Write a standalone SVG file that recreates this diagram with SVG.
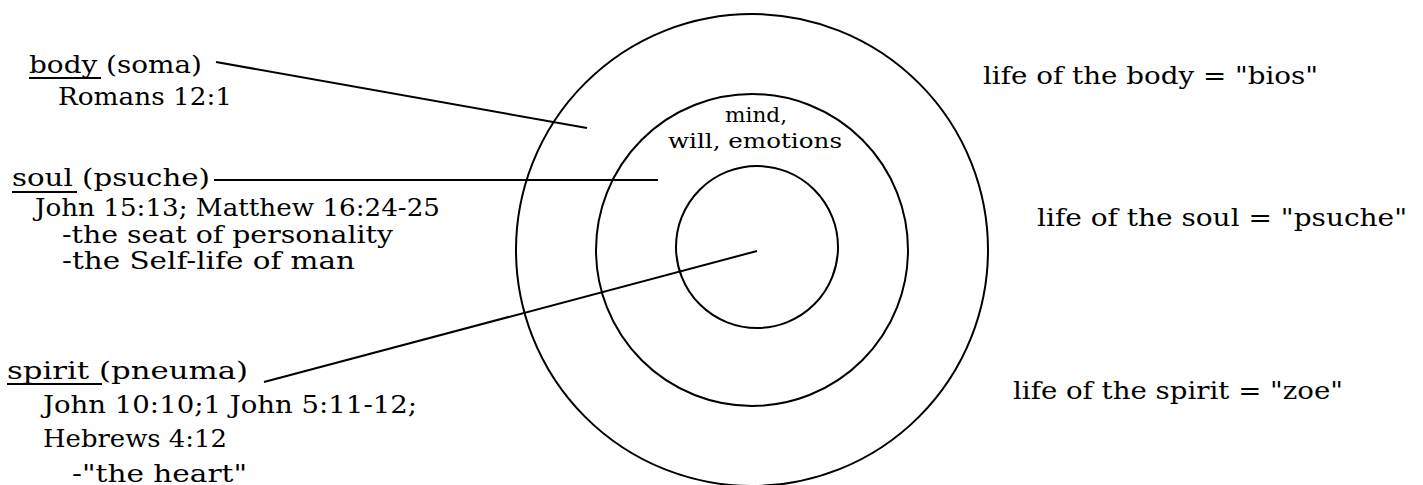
<svg xmlns="http://www.w3.org/2000/svg" width="1423" height="485" viewBox="0 0 1423 485">
<style>
  .t { font-family: "DejaVu Serif", "Liberation Serif", serif; font-size: 25px; fill: #000; }
  .s { font-family: "DejaVu Serif", "Liberation Serif", serif; font-size: 20px; fill: #000; }
  .ring { fill: none; stroke: #000; stroke-width: 2; }
  .ln { stroke: #000; stroke-width: 2; fill: none; }
</style>
<rect width="1423" height="485" fill="#fff"/>
<g id="rings">
  <circle id="outer" class="ring" cx="752" cy="250" r="236"/>
  <circle id="middle" class="ring" cx="752" cy="250" r="156"/>
  <circle id="inner" class="ring" cx="757" cy="247" r="81"/>
</g>
<g id="connectors">
  <line class="ln" x1="216" y1="62" x2="587" y2="128"/>
  <line class="ln" x1="214" y1="180" x2="658" y2="180"/>
  <line class="ln" x1="264" y1="382" x2="757" y2="251"/>
</g>
<g id="body">
  <text class="t" x="29" y="73" textLength="173" lengthAdjust="spacingAndGlyphs">body (soma)</text>
  <line class="ln" x1="29" y1="78" x2="101" y2="78"/>
  <text class="t" x="58" y="105" textLength="174" lengthAdjust="spacingAndGlyphs">Romans 12:1</text>
</g>
<g id="soul">
  <text class="t" x="12" y="186" textLength="198" lengthAdjust="spacingAndGlyphs">soul (psuche)</text>
  <line class="ln" x1="12" y1="192" x2="77" y2="192"/>
  <text class="t" x="35" y="216" textLength="405" lengthAdjust="spacingAndGlyphs">John 15:13; Matthew 16:24-25</text>
  <text class="t" x="62" y="243" textLength="331" lengthAdjust="spacingAndGlyphs">-the seat of personality</text>
  <text class="t" x="62" y="269" textLength="293" lengthAdjust="spacingAndGlyphs">-the Self-life of man</text>
</g>
<g id="spirit">
  <text class="t" x="7" y="379" textLength="241" lengthAdjust="spacingAndGlyphs">spirit (pneuma)</text>
  <line class="ln" x1="7" y1="384" x2="102" y2="384"/>
  <text class="t" x="43" y="413" textLength="374" lengthAdjust="spacingAndGlyphs">John 10:10;1 John 5:11-12;</text>
  <text class="t" x="43" y="447" textLength="184" lengthAdjust="spacingAndGlyphs">Hebrews 4:12</text>
  <text class="t" x="72" y="482" textLength="175" lengthAdjust="spacingAndGlyphs">-"the heart"</text>
</g>
<g id="center-label">
  <text class="s" x="725" y="122" textLength="62" lengthAdjust="spacingAndGlyphs">mind,</text>
  <text class="s" x="668" y="148" textLength="174" lengthAdjust="spacingAndGlyphs">will, emotions</text>
</g>
<g id="life-body">
  <text class="t" x="983" y="84" textLength="335" lengthAdjust="spacingAndGlyphs">life of the body = "bios"</text>
</g>
<g id="life-soul">
  <text class="t" x="1037" y="226" textLength="370" lengthAdjust="spacingAndGlyphs">life of the soul = "psuche"</text>
</g>
<g id="life-spirit">
  <text class="t" x="1013" y="399" textLength="330" lengthAdjust="spacingAndGlyphs">life of the spirit = "zoe"</text>
</g>
</svg>
